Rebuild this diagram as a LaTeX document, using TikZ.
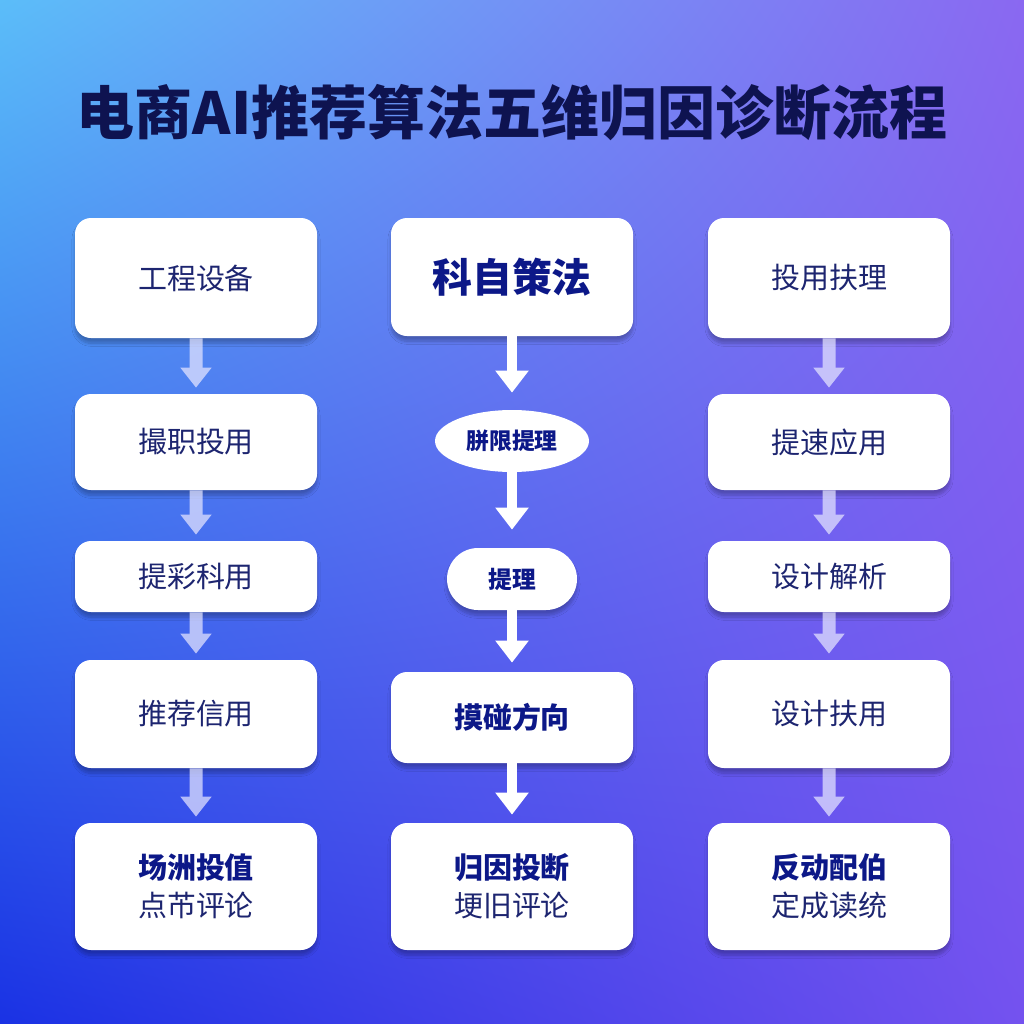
\documentclass[tikz,border=0pt]{standalone}
\usepackage{fontspec}
\usepackage{xcolor}
\newfontfamily\cjk{Noto Sans CJK SC}
\usetikzlibrary{arrows.meta,shapes.geometric,shadows.blur,shadings}
\newdimen\pu
\pu=0.02cm
\definecolor{titleblue}{HTML}{0E1350}
\definecolor{navy}{HTML}{1D2570}
\definecolor{boldblue}{HTML}{0C1888}
\definecolor{bgtl}{HTML}{5BBDF9}
\definecolor{bgtr}{HTML}{8A68F1}
\definecolor{bgbl}{HTML}{1A32E4}
\definecolor{bgbr}{HTML}{7452EF}
\tikzset{
   card/.style={rectangle,rounded corners=16\pu,fill=white,inner sep=0pt,
     minimum width=242\pu,text=navy,align=center,
     font=\cjk\fontsize{16.5}{21.6}\selectfont,
     blur shadow={shadow xshift=0pt,shadow yshift=-3pt,shadow blur steps=8,shadow opacity=25}},
   bold/.style={text=boldblue,font=\cjk\bfseries\fontsize{16.5}{21.6}\selectfont},
 }
\begin{document}
\begin{tikzpicture}[x=0.02cm,y=-0.02cm,
      soft/.style={draw=white!90!blue,line width=13\pu,
        -{Triangle[width=0.6cm,length=0.4cm]},shorten >=6\pu},
      solid/.style={draw=white,line width=10\pu,
        -{Triangle[width=0.64cm,length=0.44cm]}},
      ]
      % background
      \shade[upper left=bgtl,upper right=bgtr,lower left=bgbl,lower right=bgbr]
        (0,0) rectangle (1024,1024);
      \useasboundingbox (0,0) rectangle (1024,1024);

      \node (title) at (512,113) [text=titleblue,font=\cjk\bfseries\fontsize{33}{38}\selectfont] {电商AI推荐算法五维归因诊断流程};

      % left column
      \node (l1) at (196,278) [card,minimum height=120\pu] {工程设备};
      \node (l2) at (196,442) [card,minimum height=96\pu] {撮职投用};
      \node (l3) at (196,576.5) [card,minimum height=71\pu] {提彩科用};
      \node (l4) at (196,714) [card,minimum height=108\pu] {推荐信用};
      \node (l5) at (196,886.5) [card,minimum height=127\pu] {{\bfseries\color{boldblue}场洲投值}\\点芇评论};

      % middle column
      \node (m1) at (512,277) [card,bold,minimum height=118\pu,
        font=\cjk\bfseries\fontsize{22.7}{26}\selectfont] {科自策法};
      \node (m2) at (512,441) [ellipse,fill=white,inner sep=0pt,minimum width=154\pu,
        minimum height=62\pu,text=boldblue,font=\cjk\bfseries\fontsize{13}{15}\selectfont] {胼限提理};
      \node (m3) at (512,579) [card,bold,rounded corners=31\pu,minimum width=130\pu,
        minimum height=62\pu,font=\cjk\bfseries\fontsize{13.5}{15}\selectfont] {提理};
      \node (m4) at (512,717.5) [card,bold,minimum height=91\pu] {摸碰方向};
      \node (m5) at (512,886.5) [card,minimum height=127\pu] {{\bfseries\color{boldblue}归因投断}\\埂旧评论};

      % right column
      \node (r1) at (829,278) [card,minimum height=120\pu] {投用扶理};
      \node (r2) at (829,442) [card,minimum height=96\pu] {提速应用};
      \node (r3) at (829,576.5) [card,minimum height=71\pu] {设计解析};
      \node (r4) at (829,714) [card,minimum height=108\pu] {设计扶用};
      \node (r5) at (829,886.5) [card,minimum height=127\pu] {{\bfseries\color{boldblue}反动配伯}\\定成读统};

      \begin{scope}[transparency group,opacity=0.72]
      \foreach \c in {l,r} {
        \draw [soft] (\c1) -- (\c2);
        \draw [soft] (\c2) -- (\c3);
        \draw [soft] (\c3) -- (\c4);
        \draw [soft] (\c4) -- (\c5);
      }
      \end{scope}
      \draw [solid,shorten >=17\pu] (m1) -- (m2);
      \draw [solid,shorten >=18\pu] (m2) -- (m3);
      \draw [solid,shorten >=9\pu] (m3) -- (m4);
      \draw [solid,shorten >=8\pu] (m4) -- (m5);
    \end{tikzpicture}
\end{document}
